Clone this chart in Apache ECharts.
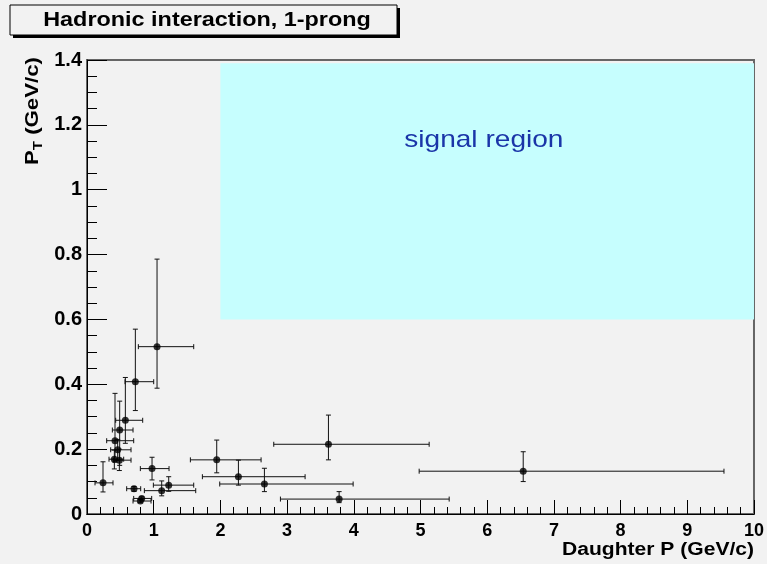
<!DOCTYPE html>
<html>
<head>
<meta charset="utf-8">
<script src="https://cdn.jsdelivr.net/npm/echarts@6/dist/echarts.min.js"></script>
<style>
html,body{margin:0;padding:0;background:#f2f2f2;}
#chart{width:767px;height:564px;}
</style>
</head>
<body>
<div id="chart"></div>
<script>
// Data
const pointX  = [0.24, 1.05, 0.725, 0.575, 0.49, 0.42, 0.46, 0.41, 0.485, 0.975, 1.225, 0.705, 1.12, 0.80, 0.82, 1.945, 2.27, 2.66, 3.62, 3.78, 6.54];
const pointY  = [0.096, 0.516, 0.408, 0.289, 0.259, 0.226, 0.198, 0.169, 0.166, 0.140, 0.089, 0.078, 0.072, 0.040, 0.048, 0.167, 0.115, 0.0925, 0.215, 0.046, 0.132];
const xLow    = [0.12, 0.77, 0.57, 0.43, 0.38, 0.295, 0.355, 0.33, 0.395, 0.80, 0.995, 0.595, 0.86, 0.69, 0.70, 1.55, 1.73, 1.99, 2.80, 2.90, 4.98];
const xHigh   = [0.39, 1.60, 1.00, 0.835, 0.69, 0.70, 0.66, 0.55, 0.66, 1.23, 1.60, 0.805, 1.63, 0.96, 0.97, 2.61, 3.27, 3.99, 5.13, 5.43, 9.55];
const yLow    = [0.068, 0.388, 0.319, 0.218, 0.15, 0.16, 0.165, 0.139, 0.134, 0.105, 0.070, 0.070, 0.056, 0.035, 0.043, 0.127, 0.089, 0.069, 0.167, 0.035, 0.100];
const yHigh   = [0.161, 0.786, 0.570, 0.421, 0.348, 0.372, 0.230, 0.197, 0.200, 0.175, 0.115, 0.085, 0.102, 0.045, 0.053, 0.228, 0.166, 0.141, 0.305, 0.069, 0.192];
const signalBoxX = [2, 10];
const signalBoxY = [0.6, 1.39];
const signalLabel = 'signal region';
const signalLabelPos = [5.95, 1.151];
const titleText = 'Hadronic interaction, 1-prong';
const xTitle = 'Daughter P (GeV/c)';

const FONT = '"Liberation Sans", Arial, sans-serif';
const SX = 1.17;
const pts = pointX.map((x, i) => [x, pointY[i], xLow[i], xHigh[i], yLow[i], yHigh[i]]);

const chart = echarts.init(document.getElementById('chart'), null, {renderer: 'canvas'});

function errRender(params, api) {
  const x = api.value(0), y = api.value(1);
  const xl = api.value(2), xh = api.value(3), yl = api.value(4), yh = api.value(5);
  const c = api.coord([x, y]);
  const pl = api.coord([xl, y]), ph = api.coord([xh, y]);
  const ql = api.coord([x, yl]), qh = api.coord([x, yh]);
  const cap = 2.5;
  const st = {stroke: '#111', lineWidth: 1};
  const L = (x1, y1, x2, y2) => ({type: 'line', shape: {x1, y1, x2, y2}, style: st});
  return {
    type: 'group',
    children: [
      L(pl[0], c[1], ph[0], c[1]),
      L(pl[0], c[1] - cap, pl[0], c[1] + cap),
      L(ph[0], c[1] - cap, ph[0], c[1] + cap),
      L(c[0], ql[1], c[0], qh[1]),
      L(c[0] - cap, ql[1], c[0] + cap, ql[1]),
      L(c[0] - cap, qh[1], c[0] + cap, qh[1])
    ]
  };
}

const option = {
  backgroundColor: '#f2f2f2',
  animation: false,
  grid: {left: 87, right: 13, top: 60, bottom: 50, show: true, borderColor: '#666', borderWidth: 2, backgroundColor: 'transparent'},
  xAxis: {
    type: 'value', min: 0, max: 10, interval: 1,
    axisLine: {show: true, onZero: false, lineStyle: {color: '#000', width: 1}},
    axisTick: {show: true, inside: true, length: 14, lineStyle: {color: '#000'}},
    minorTick: {show: true, splitNumber: 5, length: 7, lineStyle: {color: '#000'}},
    splitLine: {show: false},
    axisLabel: {color: '#000', fontFamily: FONT, fontWeight: 'bold', fontSize: 18, margin: 8}
  },
  yAxis: {
    type: 'value', min: 0, max: 1.4, interval: 0.2,
    axisLine: {show: true, onZero: false, lineStyle: {color: '#000', width: 1}},
    axisTick: {show: true, inside: true, length: 20, lineStyle: {color: '#000'}},
    minorTick: {show: true, splitNumber: 4, length: 10, lineStyle: {color: '#000'}},
    splitLine: {show: false},
    axisLabel: {color: '#000', fontFamily: FONT, fontWeight: 'bold', fontSize: 20, margin: 5}
  },
  series: [
    {
      type: 'custom',
      renderItem: errRender,
      data: pts,
      encode: {x: 0, y: 1},
      z: 3,
      markArea: {
        silent: true,
        itemStyle: {color: '#c6fefe'},
        label: {show: false},
        data: [[{coord: [signalBoxX[0], signalBoxY[0]]}, {coord: [signalBoxX[1], signalBoxY[1]]}]]
      }
    },
    {
      type: 'scatter',
      data: pts.map(p => [p[0], p[1]]),
      symbol: 'circle', symbolSize: 7,
      itemStyle: {color: '#000'},
      z: 4
    }
  ],
  graphic: [
    {type: 'rect', shape: {x: 13, y: 8, width: 387, height: 30}, style: {fill: '#000'}, z: 10},
    {type: 'rect', shape: {x: 10, y: 5, width: 387, height: 30}, style: {fill: '#f2f2f2', stroke: '#000', lineWidth: 1}, z: 11},
    {type: 'text', x: 207, y: 20, scaleX: SX, z: 12, style: {text: titleText, font: 'bold 20px ' + FONT, fill: '#000', textAlign: 'center', textVerticalAlign: 'middle'}},
    {type: 'text', x: 754, y: 550, scaleX: SX, z: 12, style: {text: xTitle, font: 'bold 18px ' + FONT, fill: '#000', textAlign: 'right', textVerticalAlign: 'middle'}},
    {type: 'text', x: 33, y: 57, rotation: Math.PI / 2, scaleX: SX, z: 12,
      style: {
        text: '{a|P}{s|T}{a| (GeV/c)}',
        textAlign: 'right', textVerticalAlign: 'middle',
        rich: {
          a: {font: 'bold 19px ' + FONT, fill: '#000'},
          s: {font: 'bold 13px ' + FONT, fill: '#000', padding: [10, 0, 0, 0]}
        }
      }
    }
  ]
};
chart.setOption(option);
const lp = chart.convertToPixel({gridIndex: 0}, signalLabelPos);
chart.setOption({
  graphic: [{type: 'text', id: 'sig', x: lp[0], y: lp[1], scaleX: SX, z: 5,
    style: {text: signalLabel, font: '24px ' + FONT, fill: '#1a35a8', textAlign: 'center', textVerticalAlign: 'middle'}}]
});
</script>
</body>
</html>
